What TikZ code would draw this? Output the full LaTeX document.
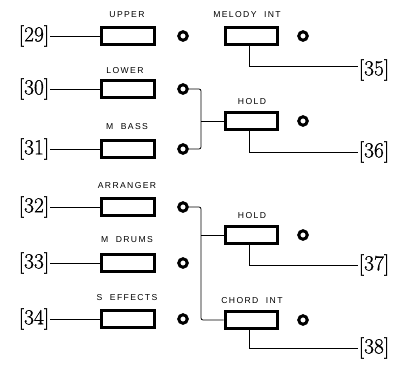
\documentclass[tikz,border=0pt]{standalone}
\usepackage{fontspec}
\newfontfamily\labfont{Liberation Sans}[LetterSpace=16]
\newfontfamily\numfont{Latin Modern Roman}[FakeBold=0.9]
\begin{document}
\begin{tikzpicture}[x=1pt,y=-1pt,
  btn/.style={draw, line width=3.4pt, minimum width=52.5pt, minimum height=16.5pt, inner sep=0pt},
  lamp/.style={circle, draw, line width=3pt, minimum size=8.5pt, inner sep=0pt},
  num/.style={font=\numfont\fontsize{21.5}{22}\selectfont, inner sep=1pt},
  captxt/.style={font=\labfont\fontsize{8.6}{9}\selectfont, inner sep=0pt},
  wire/.style={line width=0.8pt}]
\useasboundingbox (0,0) rectangle (398,364);
% left column buttons
\node[btn] (b29) at (128,36) {};
\node[btn] (b30) at (128,89) {};
\node[btn] (b31) at (128,149) {};
\node[btn] (b32) at (128,207) {};
\node[btn] (b33) at (128,263) {};
\node[btn] (b34) at (128,319) {};
% left lamps
\node[lamp] (l29) at (183,36) {};
\node[lamp] (l30) at (183,89) {};
\node[lamp] (l31) at (183,149) {};
\node[lamp] (l32) at (183,207) {};
\node[lamp] (l33) at (183,263) {};
\node[lamp] (l34) at (183,319) {};
% right buttons
\node[btn] (b35) at (251.5,36) {};
\node[btn] (h1) at (251.5,121) {};
\node[btn] (h2) at (251.5,235) {};
\node[btn] (b38) at (251.5,320) {};
% right lamps
\node[lamp] (r35) at (303,36) {};
\node[lamp] (r36) at (303,121) {};
\node[lamp] (r37) at (303,235) {};
\node[lamp] (r38) at (303,320) {};
% captions
\node[captxt] (t1) at (127,14.5) {UPPER};
\node[captxt] (t2) at (125,71) {LOWER};
\node[captxt] (t3) at (127,127) {M\ \ BASS};
\node[captxt] (t4) at (127,186) {ARRANGER};
\node[captxt] (t5) at (127,240) {M\ \ DRUMS};
\node[captxt] (t6) at (127,298) {S\ \ EFFECTS};
\node[captxt] (t7) at (247,14.5) {MELODY\ \ INT};
\node[captxt] (t8) at (252,102) {HOLD};
\node[captxt] (t9) at (252,216) {HOLD};
\node[captxt] (t10) at (252,301) {CHORD\ \ INT};
% numbers
\node[num] (n29) at (34,36) {[29]};
\node[num] (n30) at (34,89) {[30]};
\node[num] (n31) at (34,149) {[31]};
\node[num] (n32) at (34,207) {[32]};
\node[num] (n33) at (34,263) {[33]};
\node[num] (n34) at (34,319) {[34]};
\node[num] (n35) at (374,70) {[35]};
\node[num] (n36) at (374,152) {[36]};
\node[num] (n37) at (374,265) {[37]};
\node[num] (n38) at (374,348) {[38]};
% leader lines
\foreach \i in {29,...,34} \draw[wire] (n\i.east) -- (b\i.west);
\draw[wire] ([xshift=-2pt]b35.south) |- ([yshift=4pt]n35.west);
\draw[wire] ([xshift=-2pt]h1.south) |- (n36.west);
\draw[wire] ([xshift=-2pt]h2.south) |- (n37.west);
\draw[wire] ([xshift=-2pt]b38.south) |- (n38.west);
% connectors
\coordinate (j1) at (201,121);
\coordinate (j2) at (201,235);
\draw[wire, rounded corners=2pt] (l30.east) -| (j1) |- (l31.east);
\draw[wire] (j1) -- (h1.west);
\draw[wire, rounded corners=2pt] (l32.east) -| (j2) |- (b38.west);
\draw[wire] (j2) -- (h2.west);
\end{tikzpicture}
\end{document}
